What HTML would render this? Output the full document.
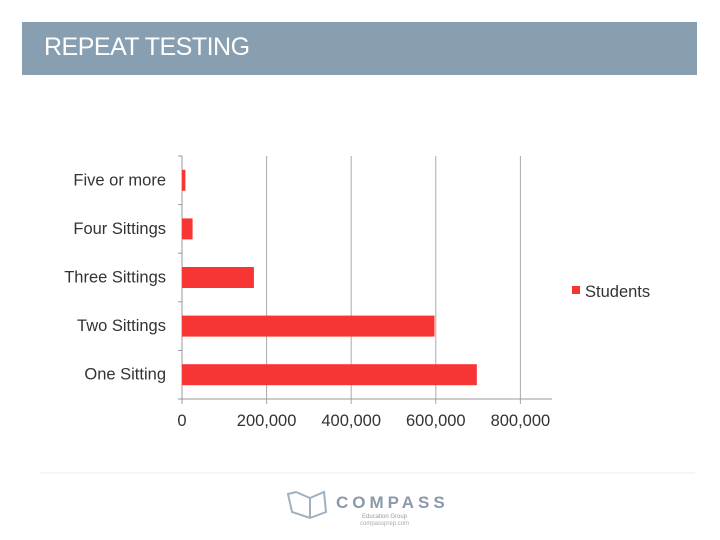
<!DOCTYPE html>
<html><head><meta charset="utf-8"><style>
body{margin:0;width:720px;height:540px;background:#fff;font-family:"Liberation Sans",sans-serif;overflow:hidden;position:relative}
#banner{position:absolute;left:22px;top:22px;width:675px;height:53px;background:#879fb0}
#banner span{position:absolute;left:22px;top:11px;color:#fff;font-size:25px;letter-spacing:-0.5px}
</style></head><body>
<div id="banner"><span>REPEAT TESTING</span></div>
<svg id="chart" width="720" height="540" style="position:absolute;left:0;top:0"></svg>
<script>
const categories=["Five or more","Four Sittings","Three Sittings","Two Sittings","One Sitting"];
const students=[8000,25000,170000,597000,697000];
const ticks=[0,200000,400000,600000,800000];
const tickLabels=["0","200,000","400,000","600,000","800,000"];
const ns="http://www.w3.org/2000/svg";
const svg=document.getElementById('chart');
const x0=182,xPer=84.6/200000,yTop=156,yBot=399,band=(yBot-yTop)/categories.length;
const X=v=>x0+v*xPer;
function mk(t,a,p){const e=document.createElementNS(ns,t);for(const k in a)e.setAttribute(k,a[k]);(p||svg).appendChild(e);return e;}
ticks.forEach((t,i)=>{
  const g=mk('line',{x1:X(t),x2:X(t),y1:yTop,y2:yBot+5,stroke:i?'#aaa':'#999','stroke-width':1});
  
  
  const l=mk('text',{x:X(t),y:426,'text-anchor':'middle','font-size':16.5,fill:'#333','font-family':'Liberation Sans'});
  l.textContent=tickLabels[i];
  
  
});
const ax=mk('line',{x1:x0-4,x2:552,y1:yBot,y2:yBot,stroke:'#999'});


for(let i=0;i<=categories.length;i++){
  const tk=mk('line',{x1:x0-4,x2:x0,y1:yTop+i*band,y2:yTop+i*band,stroke:'#999'});
  
  
}
categories.forEach((c,i)=>{
  const yc=yTop+band*(i+0.5);
  const b=mk('rect',{x:x0,y:yc-10.5,width:X(students[i])-x0,height:21,fill:'#f83535'});
  
  
  const t=mk('text',{x:166,y:yc+5,'text-anchor':'end','font-size':16.5,fill:'#333','font-family':'Liberation Sans'});
  t.textContent=c;
  
  
});
const lg=mk('rect',{x:572,y:286,width:8,height:8,fill:'#f83535'});


const lt=mk('text',{x:585,y:297,'font-size':16.5,fill:'#333','font-family':'Liberation Sans'});
lt.textContent='Students';


const sep=mk('line',{x1:40,x2:695,y1:473,y2:473,stroke:'#eee'});


const logo=mk('g',{});


mk('path',{d:'M288 494 L296 492 L310 498 L324 492 L326 512 L310 518 L292 512 Z',fill:'none',stroke:'#9fb0c0','stroke-width':2},logo);
mk('line',{x1:310,y1:498,x2:310,y2:518,stroke:'#9fb0c0','stroke-width':2},logo);
const lt2=mk('text',{x:336,y:508,'font-size':17,'font-weight':'bold',fill:'#8a9aa8','letter-spacing':'4','font-family':'Liberation Sans'},logo);
lt2.textContent='COMPASS';
const lt3=mk('text',{x:362,y:518,'font-size':6,fill:'#999','font-family':'Liberation Sans'},logo);
lt3.textContent='Education Group';
const lt4=mk('text',{x:360,y:525,'font-size':6,fill:'#aaa','font-family':'Liberation Sans'},logo);
lt4.textContent='compassprep.com';
</script>
</body></html>
